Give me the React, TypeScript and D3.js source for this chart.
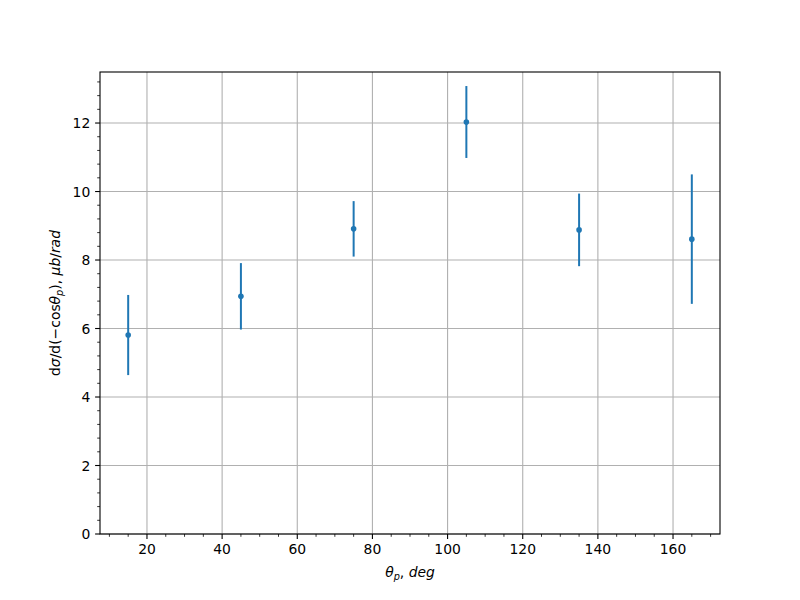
import React from "react";
import * as d3 from "d3";

const angles = [15, 45, 75, 105, 135, 165];
const values = [5.81, 6.94, 8.91, 12.03, 8.88, 8.61];
const errors = [1.17, 0.97, 0.81, 1.05, 1.06, 1.89];
const xTicks = [20, 40, 60, 80, 100, 120, 140, 160];
const yTicks = [0, 2, 4, 6, 8, 10, 12];

const W = 800, H = 600;
const L = 100, R = 720, T = 72, B = 534;
const FS = 13.9;
const FONT = "DejaVu Sans";

export default function App() {
  const x = d3.scaleLinear().domain([7.5, 172.5]).range([L, R]);
  const y = d3.scaleLinear().domain([0, 13.49]).range([B, T]);
  const xMinor = d3.range(10, 175, 5).filter((v) => v % 20 !== 0 && x(v) >= L && x(v) <= R);
  const yMinor = d3.range(0, 13.5, 0.4).filter((v) => Math.abs(v / 2 - Math.round(v / 2)) > 0.01);
  const c = "#1f77b4";
  return (
    <svg width={W} height={H} style={{ display: "block", position: "absolute", left: 0, top: 0 }} fontFamily={FONT}>
      <rect x={0} y={0} width={W} height={H} fill="#fff" />
      {xTicks.map((t) => (
        <line key={"gx" + t} x1={x(t)} x2={x(t)} y1={T} y2={B} stroke="#b0b0b0" strokeWidth={1.1} />
      ))}
      {yTicks.map((t) => (
        <line key={"gy" + t} x1={L} x2={R} y1={y(t)} y2={y(t)} stroke="#b0b0b0" strokeWidth={1.1} />
      ))}
      {angles.map((a, i) => (
        <g key={"p" + i}>
          <line x1={x(a)} x2={x(a)} y1={y(values[i] - errors[i])} y2={y(values[i] + errors[i])} stroke={c} strokeWidth={2} />
          <circle cx={x(a)} cy={y(values[i])} r={2.8} fill={c} />
        </g>
      ))}
      <rect x={L} y={T} width={R - L} height={B - T} fill="none" stroke="#000" strokeWidth={1.1} />
      {xTicks.map((t) => (
        <g key={"xt" + t}>
          <line x1={x(t)} x2={x(t)} y1={B} y2={B + 4.9} stroke="#000" strokeWidth={1.1} />
          <text x={x(t)} y={B + 9.7 + FS * 0.76} textAnchor="middle" fontSize={FS}>{t}</text>
        </g>
      ))}
      {xMinor.map((t) => (
        <line key={"xm" + t} x1={x(t)} x2={x(t)} y1={B} y2={B + 2.8} stroke="#000" strokeWidth={0.8} />
      ))}
      {yTicks.map((t) => (
        <g key={"yt" + t}>
          <line x1={L} x2={L - 4.9} y1={y(t)} y2={y(t)} stroke="#000" strokeWidth={1.1} />
          <text x={L - 9.7} y={y(t)} dy="0.36em" textAnchor="end" fontSize={FS}>{t}</text>
        </g>
      ))}
      {yMinor.map((t) => (
        <line key={"ym" + t} x1={L} x2={L - 2.8} y1={y(t)} y2={y(t)} stroke="#000" strokeWidth={0.8} />
      ))}
      <text x={(L + R) / 2} y={577} textAnchor="middle" fontSize={FS}>
        <tspan fontStyle="italic">θ</tspan>
        <tspan fontStyle="italic" fontSize={FS * 0.7} dy={3}>p</tspan>
        <tspan dy={-3}>, </tspan>
        <tspan fontStyle="italic">deg</tspan>
      </text>
      <text transform={`translate(60, ${(T + B) / 2}) rotate(-90)`} textAnchor="middle" fontSize={FS}>
        <tspan>d</tspan>
        <tspan fontStyle="italic">σ</tspan>
        <tspan>/d(−cos</tspan>
        <tspan fontStyle="italic">θ</tspan>
        <tspan fontStyle="italic" fontSize={FS * 0.7} dy={3}>p</tspan>
        <tspan dy={-3}>), </tspan>
        <tspan fontStyle="italic">μb</tspan>
        <tspan>/</tspan>
        <tspan fontStyle="italic">rad</tspan>
      </text>
    </svg>
  );
}
